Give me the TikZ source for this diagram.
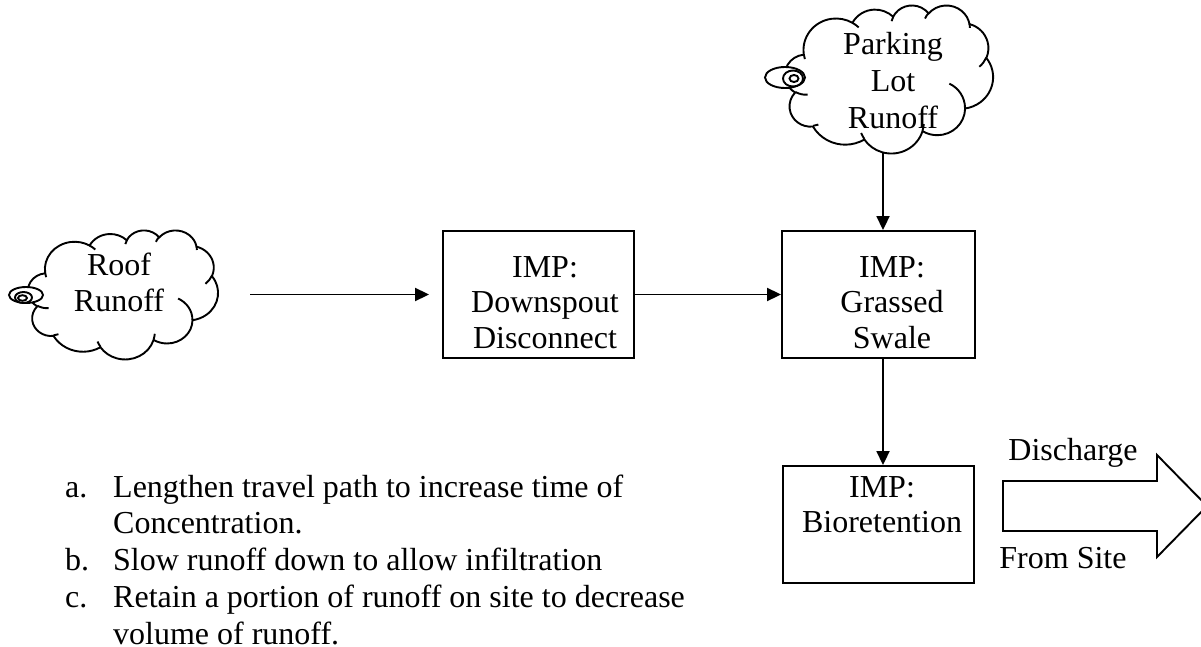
\documentclass[tikz,border=0pt]{standalone}
\usepackage{fontspec}
\setmainfont{Liberation Serif}
\usetikzlibrary{arrows.meta}
% one elliptical arc of the Word cloud outline: wR hR stAng swAng (visual angles, degrees)
\newcommand\cldarc[4]{%
  \pgfmathsetmacro\cldA{#3}%
  \pgfmathsetmacro\cldB{#3+#4}%
  \pgfmathsetmacro\cldPa{atan2(#1*sin(\cldA),#2*cos(\cldA))}%
  \pgfmathsetmacro\cldPb{atan2(#1*sin(\cldB),#2*cos(\cldB))}%
  \pgfmathsetmacro\cldD{\cldPb-\cldPa}%
  \pgfmathsetmacro\cldD{\cldD<0 ? \cldD+360 : \cldD}%
  \pgfmathsetmacro\cldE{\cldPa+\cldD}%
  \pgfmathsetmacro\cldRx{#1/1000}%
  \pgfmathsetmacro\cldRy{#2/1000}%
  \pgfpatharc{\cldPa}{\cldE}{\cldRx pt and \cldRy pt}%
}
\newcommand\cloudoutline{%
  \pgfpathmoveto{\pgfpoint{3.9pt}{14.37pt}}%
  \cldarc{6753}{9190}{-190.4875}{123.7805}%
  \cldarc{5333}{7267}{-144.1024}{89.9452}%
  \cldarc{4365}{5945}{-145.8079}{99.7230}%
  \cldarc{4857}{6595}{-130.9861}{117.2417}%
  \cldarc{5333}{7273}{-78.7089}{109.0269}%
  \cldarc{6775}{9220}{-46.2673}{130.2690}%
  \cldarc{5785}{7867}{0.6250}{114.0333}%
  \cldarc{6752}{9215}{22.4516}{115.1726}%
  \cldarc{7720}{10543}{66.2426}{75.7110}%
  \cldarc{4360}{5918}{-274.9421}{146.7356}%
  \cldarc{4345}{5945}{-246.8285}{152.5189}%
  \pgfpathclose}
\newcommand\cloudinner{%
  \pgfpathmoveto{\pgfpoint{4.693pt}{26.177pt}}\cldarc{4345}{5945}{86.7420}{26.4295}%
  \pgfpathmoveto{\pgfpoint{6.928pt}{34.899pt}}\cldarc{4360}{5918}{73.6105}{11.4475}%
  \pgfpathmoveto{\pgfpoint{16.478pt}{39.090pt}}\cldarc{6752}{9215}{137.6242}{14.0811}%
  \pgfpathmoveto{\pgfpoint{28.827pt}{34.751pt}}\cldarc{6752}{9215}{6.4533}{15.9984}%
  \pgfpathmoveto{\pgfpoint{34.129pt}{22.954pt}}\cldarc{5785}{7867}{-70.2924}{70.9174}%
  \pgfpathmoveto{\pgfpoint{41.798pt}{15.354pt}}\cldarc{5333}{7273}{30.3180}{27.7515}%
  \pgfpathmoveto{\pgfpoint{38.324pt}{5.426pt}}\cldarc{4857}{6595}{-13.7443}{14.8589}%
  \pgfpathmoveto{\pgfpoint{29.078pt}{3.952pt}}\cldarc{4857}{6595}{-149.1815}{18.1954}%
  \pgfpathmoveto{\pgfpoint{22.141pt}{4.720pt}}\cldarc{4365}{5945}{-163.4943}{17.6864}%
  \pgfpathmoveto{\pgfpoint{14.000pt}{5.192pt}}\cldarc{6753}{9190}{-66.7070}{12.3194}%
  \pgfpathmoveto{\pgfpoint{4.127pt}{15.789pt}}\cldarc{6753}{9190}{157.6544}{11.8582}%
}
\newcommand\wordcloud{%
  \cloudoutline\pgfsetfillcolor{white}\pgfusepath{fill,stroke}%
  \cloudinner\pgfusepath{stroke}}
\newcommand\rows[1]{\begin{tabular}[t]{@{}c@{}}#1\end{tabular}}
\newcommand\itm[1]{\makebox[48pt][l]{#1}}
\begin{document}
\begin{tikzpicture}[x=1pt,y=-1pt,
  lw/.style={line width=1.9pt},
  box/.style={draw,lw,inner sep=0pt,fill=white},
  txt/.style={anchor=base,inner sep=0pt,font=\fontsize{32}{36.8}\selectfont},
  boxtxt/.style={anchor=base,inner sep=0pt,font=\fontsize{32}{35.5}\selectfont},
  arr/.style={lw,-{Triangle[length=14pt,width=13pt]}},
  tail/.style={draw,lw,fill=white}]
\path[use as bounding box,fill=white] (0,0) rectangle (1201,647);

% clouds
\begin{scope}[shift={(28,230)},xscale=4.398,yscale=-2.986,lw]
  \wordcloud
\end{scope}
\draw[tail] (26,295) ellipse [x radius=17,y radius=8];
\draw[tail] (23.5,297.5) ellipse [x radius=8.5,y radius=5.5];
\draw[tail] (22.5,298) ellipse [x radius=4.5,y radius=2.8];
\node[txt] (roof) at (119,275) {\rows{Roof\\Runoff}};

\begin{scope}[shift={(785,5)},xscale=4.815,yscale=-3.426,lw]
  \wordcloud
\end{scope}
\draw[tail] (785,77.5) ellipse [x radius=20,y radius=10.5];
\draw[tail] (793,78.5) ellipse [x radius=10,y radius=8];
\draw[tail] (794,78.5) ellipse [x radius=4.5,y radius=3.5];
\node[txt] (park) at (893,55) {\rows{Parking\\Lot\\Runoff}};

% boxes
\node[box,minimum width=191pt,minimum height=127pt] (ds) at (538.5,294.5) {};
\node[boxtxt] (dst) at (545,277) {\rows{IMP:\\Downspout\\Disconnect}};
\node[box,minimum width=193pt,minimum height=127pt] (gs) at (878.5,294.5) {};
\node[boxtxt] (gst) at (892,277) {\rows{IMP:\\Grassed\\Swale}};
\node[box,minimum width=191pt,minimum height=117pt] (bio) at (878.5,524.5) {};
\node[boxtxt] (biot) at (882,497) {\rows{IMP:\\Bioretention}};

% connectors
\coordinate (rs) at (250,294.5);
\coordinate (pk) at (883,153);
\draw[arr,shorten >=13pt] (rs) -- (ds.west);
\draw[arr] (ds.east) -- (gs.west);
\draw[arr] (pk) -- (pk |- gs.north);
\draw[arr] (pk |- gs.south) -- (pk |- bio.north);

% discharge block arrow
\draw[lw,fill=white] (1003,481) -- (1157,481) -- (1157,455) -- (1207,506)
  -- (1157,557) -- (1157,531) -- (1003,531) -- cycle;
\node[txt] (dis) at (1073,460) {Discharge};
\node[txt] (site) at (1063,568) {From Site};

% notes
\node[anchor=base west,inner sep=0pt] (notes) at (65,497)
  {\parbox[t]{700pt}{\fontsize{32}{36.8}\selectfont\parindent=0pt
   \hangindent=48pt\hangafter=1
   \itm{a.}Lengthen travel path to increase time of\hfil\break Concentration.\par
   \hangindent=48pt\hangafter=1
   \itm{b.}Slow runoff down to allow infiltration\par
   \hangindent=48pt\hangafter=1
   \itm{c.}Retain a portion of runoff on site to decrease\hfil\break volume of runoff.}};
\end{tikzpicture}
\end{document}
